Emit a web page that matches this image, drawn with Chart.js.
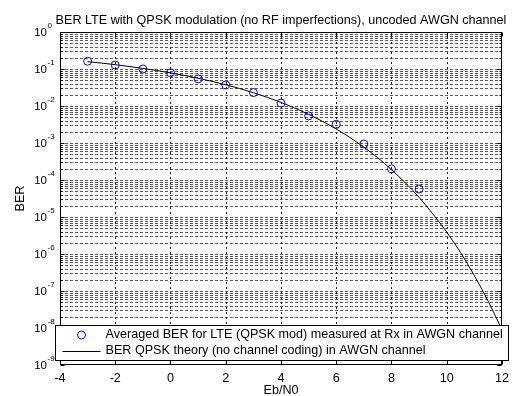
<!DOCTYPE html>
<html>
<head>
<meta charset="utf-8">
<script src="https://cdn.jsdelivr.net/npm/chart.js@4/dist/chart.umd.min.js"></script>
<style>
body { margin: 0; background: #fff; }
</style>
</head>
<body>
<canvas id="berChart" width="515" height="396"></canvas>
<script>
// measured points (blue circles)
const ebn0Measured = [-3, -2, -1, 0, 1, 2, 3, 4, 5, 6, 7, 8, 9];
const berMeasured = [0.162, 0.128, 0.1, 0.079, 0.054, 0.037, 0.023, 0.012, 0.0054, 0.0032, 9.4e-4, 2.0e-4, 5.7e-5];

// theory curve (black line), read every half dB
const ebn0Theory = [-3, -2.5, -2, -1.5, -1, -0.5, 0, 0.5, 1, 1.5, 2, 2.5, 3, 3.5, 4, 4.5,
  5, 5.5, 6, 6.5, 7, 7.5, 8, 8.5, 9, 9.5, 10, 10.5, 11, 11.5, 12];
const berTheory = [0.158, 0.1445, 0.131, 0.117, 0.104, 0.0909, 0.0786, 0.0671, 0.0563, 0.0464,
  0.0375, 0.0297, 0.0229, 0.0172, 0.0125, 0.0088, 0.00595, 0.00386, 0.00239, 0.0014,
  7.7e-4, 4.0e-4, 1.9e-4, 8.4e-5, 3.4e-5, 1.2e-5, 3.9e-6, 1.1e-6, 2.6e-7, 5.3e-8, 9.0e-9];

const xTicks = [-4, -2, 0, 2, 4, 6, 8, 10, 12];
const yDecades = [-9, -8, -7, -6, -5, -4, -3, -2, -1, 0];

const titleText = 'BER LTE with QPSK modulation (no RF imperfections), uncoded AWGN channel';
const legendLabels = [
  'Averaged BER for LTE (QPSK mod) measured at Rx in AWGN channel',
  'BER QPSK theory (no channel coding) in AWGN channel'
];

const FONT = '"Liberation Sans", Arial, sans-serif';

function toPoints(xs, ys) {
  return xs.map((x, i) => ({ x: x, y: ys[i] }));
}

const matlabAxes = {
  id: 'matlabAxes',
  beforeDatasetsDraw(chart) {
    const { ctx, chartArea: ca, scales: { x, y } } = chart;
    ctx.save();
    ctx.lineWidth = 1;
    // horizontal grid: decades and minors
    ctx.setLineDash([3, 2]);
    ctx.strokeStyle = '#5a5a5a';
    yDecades.forEach(d => {
      const mults = d < 0 ? [1, 2, 3, 4, 5, 6, 7, 8, 9] : [1];
      mults.forEach(m => {
        const py = Math.round(y.getPixelForValue(m * Math.pow(10, d))) + 0.5;
        if (py <= ca.top + 1 || py >= ca.bottom - 1) return;
        ctx.beginPath();
        ctx.moveTo(ca.left, py);
        ctx.lineTo(ca.right, py);
        ctx.stroke();
      });
    });
    // vertical grid
    ctx.setLineDash([2, 3]);
    ctx.strokeStyle = '#222';
    xTicks.forEach(v => {
      const px = Math.round(x.getPixelForValue(v)) + 0.5;
      if (px <= ca.left + 1 || px >= ca.right - 1) return;
      ctx.beginPath();
      ctx.moveTo(px, ca.top);
      ctx.lineTo(px, ca.bottom);
      ctx.stroke();
    });
    ctx.restore();
  },
  afterDatasetsDraw(chart) {
    const { ctx, chartArea: ca, scales: { x, y } } = chart;
    ctx.save();
    ctx.setLineDash([]);
    ctx.strokeStyle = '#000';
    ctx.lineWidth = 1;
    const L = Math.round(ca.left) + 0.5, R = Math.round(ca.right) - 0.5;
    const T = Math.round(ca.top) + 0.5, B = Math.round(ca.bottom) - 0.5;
    ctx.strokeRect(L, T, R - L, B - T);

    // inward tick marks
    ctx.beginPath();
    xTicks.forEach(v => {
      const px = Math.round(x.getPixelForValue(v)) + 0.5;
      ctx.moveTo(px, B); ctx.lineTo(px, B - 4);
      ctx.moveTo(px, T); ctx.lineTo(px, T + 4);
    });
    yDecades.forEach(d => {
      const mults = d < 0 ? [1, 2, 3, 4, 5, 6, 7, 8, 9] : [1];
      mults.forEach(m => {
        const py = Math.round(y.getPixelForValue(m * Math.pow(10, d))) + 0.5;
        const len = m === 1 ? 4 : 2;
        ctx.moveTo(L, py); ctx.lineTo(L + len, py);
        ctx.moveTo(R, py); ctx.lineTo(R - len, py);
      });
    });
    ctx.stroke();

    // title, centred over the axes
    ctx.fillStyle = '#000';
    ctx.font = '12.6px ' + FONT;
    ctx.textAlign = 'center';
    ctx.textBaseline = 'middle';
    ctx.fillText(titleText, (ca.left + ca.right) / 2, ca.top - 11);

    // y tick labels 10^n
    yDecades.forEach(d => {
      const py = y.getPixelForValue(Math.pow(10, d));
      ctx.font = '11.5px ' + FONT;
      ctx.textAlign = 'right';
      ctx.textBaseline = 'middle';
      ctx.fillText('10', ca.left - 13, py + 1);
      ctx.font = '8px ' + FONT;
      ctx.textAlign = 'left';
      ctx.fillText(String(d), ca.left - 12.5, py - 6);
    });

    // legend box (drawn over the axes, like MATLAB)
    const lx = Math.round(ca.left) - 5 + 0.5, lr = Math.round(ca.right) + 6 + 0.5;
    const lt = Math.round(ca.bottom) - 40 + 0.5, lb = Math.round(ca.bottom) - 5 + 0.5;
    ctx.fillStyle = '#fff';
    ctx.fillRect(lx, lt, lr - lx, lb - lt);
    ctx.strokeStyle = '#000';
    ctx.strokeRect(lx, lt, lr - lx, lb - lt);
    const row1 = lt + 9.5, row2 = lt + 25;
    ctx.strokeStyle = '#0000ff';
    ctx.beginPath();
    ctx.arc(lx + 26, row1, 4, 0, Math.PI * 2);
    ctx.stroke();
    ctx.strokeStyle = '#000';
    ctx.beginPath();
    ctx.moveTo(lx + 7, Math.round(row2) + 0.5);
    ctx.lineTo(lx + 45, Math.round(row2) + 0.5);
    ctx.stroke();
    ctx.fillStyle = '#000';
    ctx.font = '12.6px ' + FONT;
    ctx.textAlign = 'left';
    ctx.textBaseline = 'middle';
    ctx.fillText(legendLabels[0], lx + 50, row1);
    ctx.fillText(legendLabels[1], lx + 50, row2);
    ctx.restore();
  }
};

new Chart(document.getElementById('berChart'), {
  type: 'line',
  data: {
    datasets: [{
      label: legendLabels[0],
      data: toPoints(ebn0Measured, berMeasured),
      showLine: false,
      pointStyle: 'circle',
      pointRadius: 4,
      pointBorderWidth: 1,
      pointBorderColor: '#0000ff',
      pointBackgroundColor: 'rgba(0,0,0,0)'
    }, {
      label: legendLabels[1],
      data: toPoints(ebn0Theory, berTheory),
      borderColor: '#000',
      borderWidth: 1,
      pointRadius: 0,
      cubicInterpolationMode: 'monotone',
      fill: false
    }]
  },
  options: {
    responsive: false,
    animation: false,
    layout: { padding: { left: 0, right: 10, top: 32, bottom: 0 } },
    plugins: {
      legend: { display: false },
      tooltip: { enabled: false },
      title: { display: false }
    },
    scales: {
      x: {
        type: 'linear',
        min: -4,
        max: 12,
        afterBuildTicks: s => { s.ticks = xTicks.map(v => ({ value: v })); },
        afterFit: s => { s.height = 31; },
        grid: { display: false, drawTicks: false },
        border: { display: false },
        ticks: { color: '#000', padding: 6, font: { family: FONT, size: 12.6 } },
        title: {
          display: true,
          text: 'Eb/N0',
          color: '#000',
          font: { family: FONT, size: 12.6, lineHeight: 1 },
          padding: { top: 0, bottom: -1 }
        }
      },
      y: {
        type: 'logarithmic',
        min: 1e-9,
        max: 1,
        afterFit: s => { s.width = 60; },
        grid: { display: false },
        border: { display: false },
        ticks: { display: false },
        title: {
          display: true,
          text: 'BER',
          color: '#000',
          font: { family: FONT, size: 12.6 },
          padding: { top: 13, bottom: 0 }
        }
      }
    }
  },
  plugins: [matlabAxes]
});
</script>
</body>
</html>
